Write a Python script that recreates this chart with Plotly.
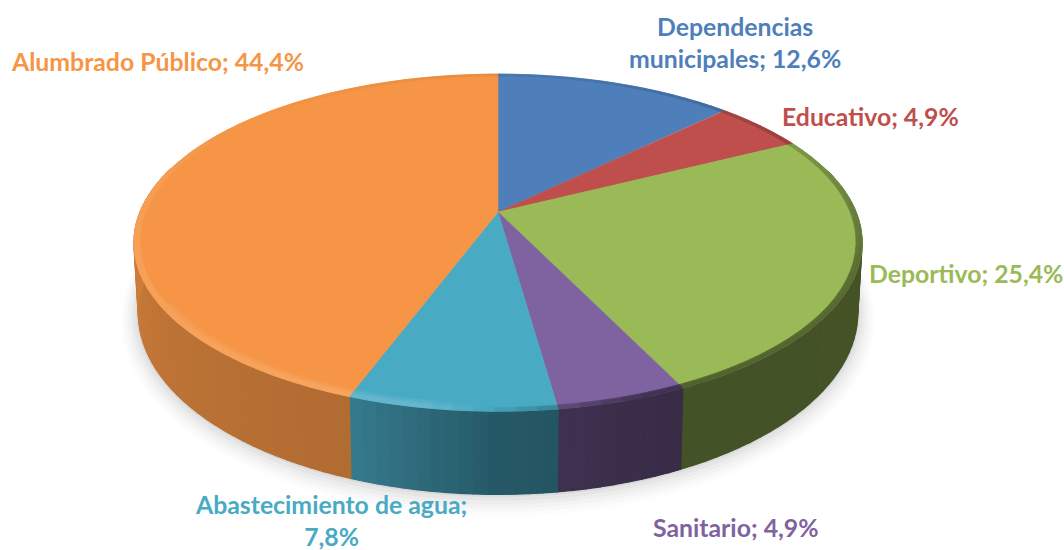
import numpy as np
import plotly.graph_objects as go

categories = ["Dependencias<br>municipales", "Educativo", "Deportivo", "Sanitario", "Abastecimiento de agua", "Alumbrado Público"]
values = [12.6, 4.9, 25.4, 4.9, 7.8, 44.4]
colors = ["#4E7FBB", "#BE4F4C", "#9ABA58", "#7F63A1", "#49AAC4", "#F59545"]
label_text = ["{}; {}%", "{}; {}%", "{}; {}%", "{}; {}%", "{};<br>{}%", "{}; {}%"]
label_x = [735, 870, 966, 736, 331, 157]
label_y = [42, 116, 273, 527, 520, 61]

# projection of the pie disc
CX, CY, R, H, K, DEPTH, SHRINK = 498, 212, 358, 163, 0.182, 68, 0.012


def project(theta, r=1.0, depth=0.0):
    w = 1 + K * r * np.cos(theta)
    x = CX + R * r * np.sin(theta) / w * (1 - SHRINK * depth)
    y = CY - H * r * np.cos(theta) / w + depth * DEPTH / (1 + K * np.cos(theta))
    return x, y


def rgb(c):
    return np.array([int(c[i:i + 2], 16) for i in (1, 3, 5)], dtype=float)


def css(v):
    v = np.clip(v, 0, 255).round().astype(int)
    return f"rgb({v[0]},{v[1]},{v[2]})"


def shade(c, f):
    return css(rgb(c) * f)


def bevel(c, a):
    v = rgb(c)
    return css(v + (255 - v) * a) if a > 0 else css(v * (1 + a))


def poly(fig, x, y, color, width=0.6):
    fig.add_trace(go.Scatter(x=x, y=y, mode="lines", fill="toself", fillcolor=color,
                             line=dict(color=color, width=width), hoverinfo="skip", showlegend=False))


total = sum(values)
edges = np.cumsum([0] + values) / total * 2 * np.pi

fig = go.Figure()

# soft shadow below the pie
for grow, alpha in [(17, .02), (14, .025), (11, .03), (8, .04), (5, .05), (2, .07)]:
    t = np.linspace(0, 2 * np.pi, 181)
    sx, sy = project(t, 1.0, 1.0)
    cx = CX
    cy = sy.mean()
    poly_x = cx + (sx - cx) * (1 + grow / 360)
    poly_y = cy + (sy - cy) * (1 + grow / 215) + grow * .35
    fig.add_trace(go.Scatter(x=poly_x, y=poly_y, mode="lines", fill="toself",
                             fillcolor=f"rgba(90,90,90,{alpha})", line=dict(width=0),
                             hoverinfo="skip", showlegend=False))

# outer wall, darkening from left to right
STEP = np.radians(2)
wall_deg = [0, 95, 155, 180, 200, 240, 275, 360]
wall_f = [.45, .45, .44, .52, .72, .78, .86, .86]
for i, c in enumerate(colors):
    a, b = edges[i], edges[i + 1]
    tt = np.linspace(a, b, 120)
    tt = tt[np.cos(tt) <= 0.3]
    if len(tt) > 1:
        x0, y0 = project(tt)
        x1, y1 = project(tt[::-1], 1.0, 1.0)
        f = np.interp(np.degrees(tt.mean()), wall_deg, wall_f)
        poly(fig, np.r_[x0, x1, x0[0]], np.r_[y0, y1, y0[0]], shade(c, f), width=0)
    n = max(1, int(np.ceil((b - a) / STEP)))
    ts = np.linspace(a, b, n + 1)
    for t0, t1 in zip(ts[:-1], ts[1:]):
        if np.cos(t0) > 0.25 and np.cos(t1) > 0.25:
            continue
        tt = np.linspace(t0, t1, 3)
        x0, y0 = project(tt)
        x1, y1 = project(tt[::-1], 1.0, 1.0)
        f = np.interp(np.degrees((t0 + t1) / 2), wall_deg, wall_f)
        poly(fig, np.r_[x0, x1, x0[0]], np.r_[y0, y1, y0[0]], shade(c, f), width=1.2)

# top faces
for i, c in enumerate(colors):
    tt = np.linspace(edges[i], edges[i + 1], 120)
    x, y = project(tt)
    poly(fig, np.r_[CX, x, CX], np.r_[CY, y, CY], c)

# rounded rim of the top face
rim_deg = [0, 60, 110, 160, 178, 190, 215, 280, 310, 360]
rim_a = [-.06, -.18, -.42, -.50, -.10, .16, .14, .08, 0, -.06]
RIM_STEP = np.radians(3)
for r0, r1, scale in [(.968, .976, .3), (.976, .984, .6), (.984, .992, .95), (.992, 1.0, 1.0)]:
    for i, c in enumerate(colors):
        a, b = edges[i], edges[i + 1]
        n = max(1, int(np.ceil((b - a) / RIM_STEP)))
        ts = np.linspace(a, b, n + 1)
        for t0, t1 in zip(ts[:-1], ts[1:]):
            m = np.degrees((t0 + t1) / 2)
            amt = float(np.interp(m, rim_deg, rim_a))
            if amt < 0 and r0 < .98:
                continue
            if 240 < m and r0 < .98:
                continue
            tt = np.linspace(t0, t1, 3)
            x0, y0 = project(tt, r1)
            x1, y1 = project(tt[::-1], r0)
            poly(fig, np.r_[x0, x1, x0[0]], np.r_[y0, y1, y0[0]], bevel(c, amt * scale), width=0.8)

for name, v, tmpl, c, x, y in zip(categories, values, label_text, colors, label_x, label_y):
    pct = f"{v:.1f}".replace(".", ",")
    fig.add_annotation(x=x, y=y, xref="x", yref="y", text=tmpl.format(name, pct),
                       showarrow=False, align="center", xanchor="center", yanchor="middle",
                       font=dict(family="Lato", size=24.8, color=c, weight="bold"))

fig.update_layout(
    width=1064, height=550, margin=dict(l=0, r=0, t=0, b=0),
    paper_bgcolor="white", plot_bgcolor="white", showlegend=False,
    xaxis=dict(range=[0, 1064], visible=False, fixedrange=True),
    yaxis=dict(range=[550, 0], visible=False, fixedrange=True),
)
fig.write_html("out.html", config={"displayModeBar": False},
               post_script="document.body.style.margin='0';document.documentElement.style.overflow='hidden';")
